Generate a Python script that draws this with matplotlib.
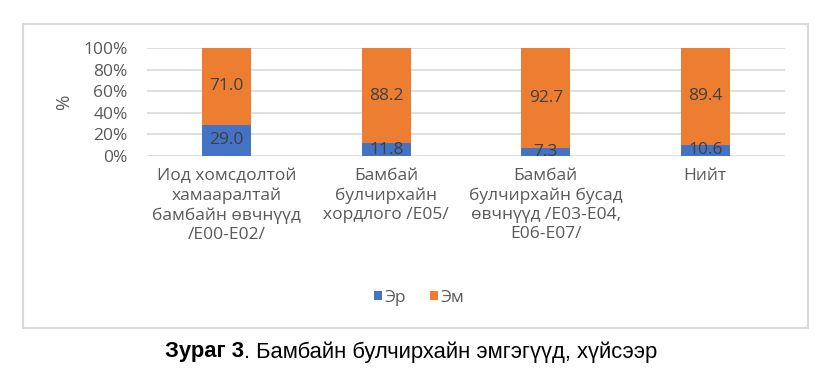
import matplotlib
matplotlib.use('Agg')
import matplotlib.pyplot as plt
from matplotlib.patches import Rectangle
import numpy as np

categories = ['Иод хомсдолтой\nхамааралтай\nбамбайн өвчнүүд\n/E00-E02/',
              'Бамбай\nбулчирхайн\nхордлого /E05/',
              'Бамбай\nбулчирхайн бусад\nөвчнүүд /E03-E04,\nE06-E07/',
              'Нийт']
er = [29.0, 11.8, 7.3, 10.6]
em = [71.0, 88.2, 92.7, 89.4]
series_names = ['Эр', 'Эм']
yticks = [0, 20, 40, 60, 80, 100]

W, H = 825, 375
plt.rcParams['font.family'] = ['Open Sans', 'DejaVu Sans']
fig = plt.figure(figsize=(W / 100, H / 100), dpi=100)

# chart frame
fig.patches.append(Rectangle((23 / W, 1 - 328 / H), (808 - 23) / W, (328 - 24) / H,
                             transform=fig.transFigure, fill=False,
                             edgecolor='#D9D9D9', linewidth=1.5))

ax = fig.add_axes([147 / W, 1 - 156 / H, (785 - 147) / W, (156 - 48) / H])
x = np.arange(len(categories))
bw = 0.31
b1 = ax.bar(x, er, bw, color='#4472C4', label=series_names[0], zorder=3)
b2 = ax.bar(x, em, bw, bottom=er, color='#ED7D31', label=series_names[1], zorder=3)

for i in range(len(categories)):
    ax.text(x[i], er[i] / 2, f'{er[i]:.1f}', ha='center', va='center',
            fontsize=12.5, color='#404040', zorder=4)
    ax.text(x[i], er[i] + em[i] / 2, f'{em[i]:.1f}', ha='center', va='center',
            fontsize=12.5, color='#404040', zorder=4)

ax.set_xlim(-0.5, len(categories) - 0.5)
ax.set_ylim(0, 100)
ax.set_yticks(yticks)
ax.set_yticklabels([f'{v}%' for v in yticks])
ax.set_xticks(x)
ax.set_xticklabels(categories, linespacing=1.25)
ax.yaxis.grid(True, color='#D9D9D9', linewidth=1.2, zorder=0)
for s in ax.spines.values():
    s.set_visible(False)
ax.tick_params(axis='both', length=0, labelsize=12.5, colors='#595959')
ax.tick_params(axis='y', pad=14)
ax.tick_params(axis='x', pad=9)
ax.set_ylabel('%', fontsize=13.5, color='#595959', labelpad=7)

fig.legend(handles=[b1, b2], labels=series_names, loc='center',
           bbox_to_anchor=(419 / W, 1 - 298 / H), ncol=2, frameon=False,
           fontsize=12.5, labelcolor='#595959', handlelength=0.45, handleheight=0.45,
           handletextpad=0.15, columnspacing=1.4)

# caption
t1 = fig.text(165 / W, 1 - 352 / H, 'Зураг 3', family='Liberation Sans',
              weight='bold', fontsize=15.8, ha='left', va='center', color='black')
fig.canvas.draw()
bb = t1.get_window_extent()
fig.text(bb.x1 / W, 1 - 352 / H, '. Бамбайн булчирхайн эмгэгүүд, хүйсээр',
         family='Liberation Sans', fontsize=15.8, ha='left', va='center', color='black')

fig.savefig('out.png', dpi=100)
